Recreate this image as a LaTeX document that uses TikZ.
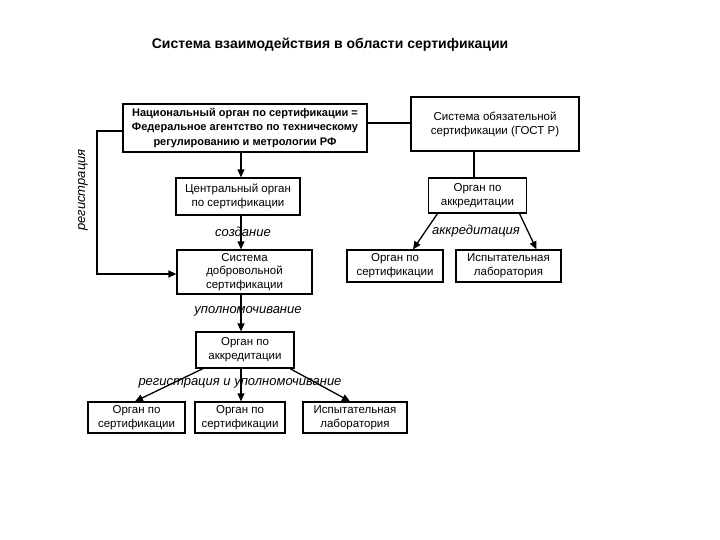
\documentclass[tikz,border=0pt]{standalone}
\usepackage{fontspec}
\setmainfont{Liberation Sans}
\usetikzlibrary{arrows.meta,calc}
\begin{document}
\begin{tikzpicture}[x=1pt,y=-1pt,
  box/.style={draw, line width=1.2pt, align=center, inner sep=0pt, font=\fontsize{11.5}{14}\selectfont},
  lbl/.style={font=\fontsize{13}{14}\selectfont\itshape, inner sep=0pt},
  arr/.style={line width=1.3pt, -{Triangle[length=8pt,width=7pt]}},
  ln/.style={line width=1.2pt}]
\useasboundingbox (0,0) rectangle (720,540);
\node[font=\fontsize{14}{16}\selectfont\bfseries] (title) at (330,45) {Система взаимодействия в области сертификации};
\node[box, minimum width=244, minimum height=48, font=\fontsize{11}{14.5}\selectfont\bfseries] (nat) at (245,128) {Национальный орган по сертификации =\\Федеральное агентство по техническому\\регулированию и метрологии РФ};
\node[box, minimum width=168, minimum height=54] (mand) at (495,124) {Система обязательной\\сертификации (ГОСТ Р)};
\node[box, minimum width=124, minimum height=37] (central) at (238,196.5) {Центральный орган\\по сертификации};
\node[box, minimum width=98, minimum height=35] (accR) at (477.5,195.5) {Орган по\\аккредитации};
\node[box, minimum width=96, minimum height=32] (certR) at (395,266) {Орган по\\сертификации};
\node[box, minimum width=105, minimum height=32] (labR) at (508.5,266) {Испытательная\\лаборатория};
\node[box, minimum width=135, minimum height=44, font=\fontsize{11.5}{13.5}\selectfont] (vol) at (244.5,272) {Система\\добровольной\\сертификации};
\node[box, minimum width=98, minimum height=36] (acc2) at (245,350) {Орган по\\аккредитации};
\node[box, minimum width=97, minimum height=31] (b1) at (136.5,417.5) {Орган по\\сертификации};
\node[box, minimum width=90, minimum height=31] (b2) at (240,417.5) {Орган по\\сертификации};
\node[box, minimum width=104, minimum height=31] (b3) at (355,417.5) {Испытательная\\лаборатория};
\coordinate (ax) at (241,0);
\coordinate (regx) at (97,0);
% connectors
\draw[arr] (nat.south -| ax) -- (central.north -| ax);
\draw[arr] (central.south -| ax) -- (vol.north -| ax);
\draw[arr] (vol.south -| ax) -- (acc2.north -| ax);
\draw[arr] (acc2.south -| ax) -- (b2.north -| ax);
\draw[arr] ([xshift=-42]acc2.south) -- ([xshift=-1.5]b1.north);
\draw[arr] ([xshift=45]acc2.south) -- ([xshift=-5]b3.north);
\draw[ln] ([yshift=5]nat.east) -- ([yshift=5]nat.east -| mand.west);
\draw[ln] (mand.south -| 474,0) -- (accR.north -| 474,0);
\draw[arr] ([xshift=-40]accR.south) -- ([xshift=18]certR.north);
\draw[arr] ([xshift=42]accR.south) -- ([xshift=28]labR.north);
\draw[arr] ([yshift=-3]nat.west) -- ([yshift=-3]nat.west -| regx) |- ([yshift=-2]vol.west);
% labels
\node[lbl] (l1) at (243,232) {создание};
\node[lbl] (l2) at (248,311) {уполномочивание};
\node[lbl] (l3) at (240,383) {регистрация и уполномочивание};
\node[lbl] (l4) at (476,231) {аккредитация};
\node[lbl, rotate=90] (l5) at (83,190) {регистрация};
\end{tikzpicture}
\end{document}
